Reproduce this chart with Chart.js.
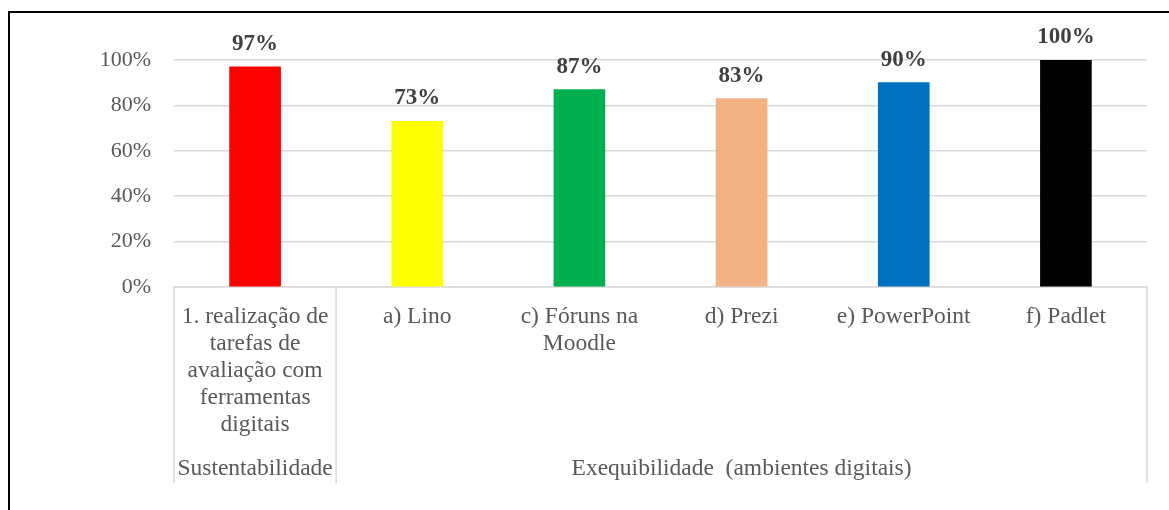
<!DOCTYPE html>
<html>
<head>
<meta charset="utf-8">
<script src="https://cdn.jsdelivr.net/npm/chart.js@4/dist/chart.umd.min.js"></script>
<style>
  html, body { margin: 0; padding: 0; background: #fff; overflow: hidden; }
  #wrap { position: relative; width: 1169px; height: 510px; }
  #frame { position: absolute; left: 8px; top: 11px; width: 1300px; height: 600px; border: 2px solid #000; pointer-events: none; }
</style>
</head>
<body>
<div id="wrap">
  <canvas id="chart" width="1169" height="510"></canvas>
  <div id="frame"></div>
</div>
<script>
// Dados do gráfico
const categorias = [
  ['1. realização de', 'tarefas de', 'avaliação com', 'ferramentas', 'digitais'],
  ['a) Lino'],
  ['c) Fóruns na', 'Moodle'],
  ['d) Prezi'],
  ['e) PowerPoint'],
  ['f) Padlet'],
];
const valores = [97, 73, 87, 83, 90, 100];
const cores = ['#ff0000', '#ffff00', '#00b050', '#f4b183', '#0070c0', '#000000'];
const grupos = ['Sustentabilidade', 'Exequibilidade  (ambientes digitais)'];
const inicioGrupos = [0, 1]; // índice da primeira categoria de cada grupo
const ticksY = [0, 20, 40, 60, 80, 100];

const fonte = 'Liberation Serif';

// Rótulos de dados acima das barras
const rotulosPlugin = {
  id: 'rotulos',
  afterDatasetsDraw(chart) {
    const ctx = chart.ctx;
    const meta = chart.getDatasetMeta(0);
    ctx.save();
    ctx.font = 'bold 23px "Liberation Serif"';
    ctx.fillStyle = '#404040';
    ctx.textAlign = 'center';
    ctx.textBaseline = 'alphabetic';
    meta.data.forEach((bar, i) => {
      ctx.fillText(valores[i] + '%', bar.x, bar.y - 17);
    });
    ctx.restore();
  },
};

// Eixo de categorias em dois níveis (linhas separadoras + grupos)
const gruposPlugin = {
  id: 'grupos',
  afterDraw(chart) {
    const ctx = chart.ctx;
    const x = chart.scales.x;
    const area = chart.chartArea;
    const passo = x.getPixelForValue(1) - x.getPixelForValue(0);
    const fim = 483;
    ctx.save();
    ctx.strokeStyle = '#d9d9d9';
    ctx.lineWidth = 1.5;
    const limites = inicioGrupos.map((i) => x.getPixelForValue(i) - passo / 2);
    limites.push(x.getPixelForValue(categorias.length - 1) + passo / 2);
    limites.forEach((px) => {
      ctx.beginPath();
      ctx.moveTo(px, area.bottom);
      ctx.lineTo(px, fim);
      ctx.stroke();
    });
    ctx.font = '23.5px "Liberation Serif"';
    ctx.fillStyle = '#595959';
    ctx.textAlign = 'center';
    ctx.textBaseline = 'alphabetic';
    grupos.forEach((g, i) => {
      const cx = (limites[i] + limites[i + 1]) / 2;
      ctx.fillText(g, cx, 475);
    });
    ctx.restore();
  },
};

new Chart(document.getElementById('chart'), {
  type: 'bar',
  data: {
    labels: categorias,
    datasets: [{ data: valores, backgroundColor: cores, barThickness: 51 }],
  },
  options: {
    responsive: false,
    animation: false,
    layout: { padding: { top: 60, right: 22, left: 0, bottom: 0 } },
    plugins: { legend: { display: false }, tooltip: { enabled: false } },
    scales: {
      x: {
        grid: { display: false, drawTicks: false },
        border: { color: '#d9d9d9', width: 1.5 },
        ticks: {
          color: '#595959',
          font: { family: fonte, size: 23.5, lineHeight: 1.15 },
          padding: 16,
          maxRotation: 0,
          autoSkip: false,
        },
        afterFit(s) { s.height = 223; },
      },
      y: {
        min: 0,
        max: 100,
        afterBuildTicks(s) { s.ticks = ticksY.map((v) => ({ value: v })); },
        grid: { color: '#d9d9d9', lineWidth: 1.5, drawTicks: false },
        border: { display: false },
        ticks: {
          color: '#595959',
          font: { family: fonte, size: 22 },
          padding: 23,
          callback: (v) => v + '%',
        },
        afterFit(s) { s.width = 174; },
      },
    },
  },
  plugins: [rotulosPlugin, gruposPlugin],
});
</script>
</body>
</html>
